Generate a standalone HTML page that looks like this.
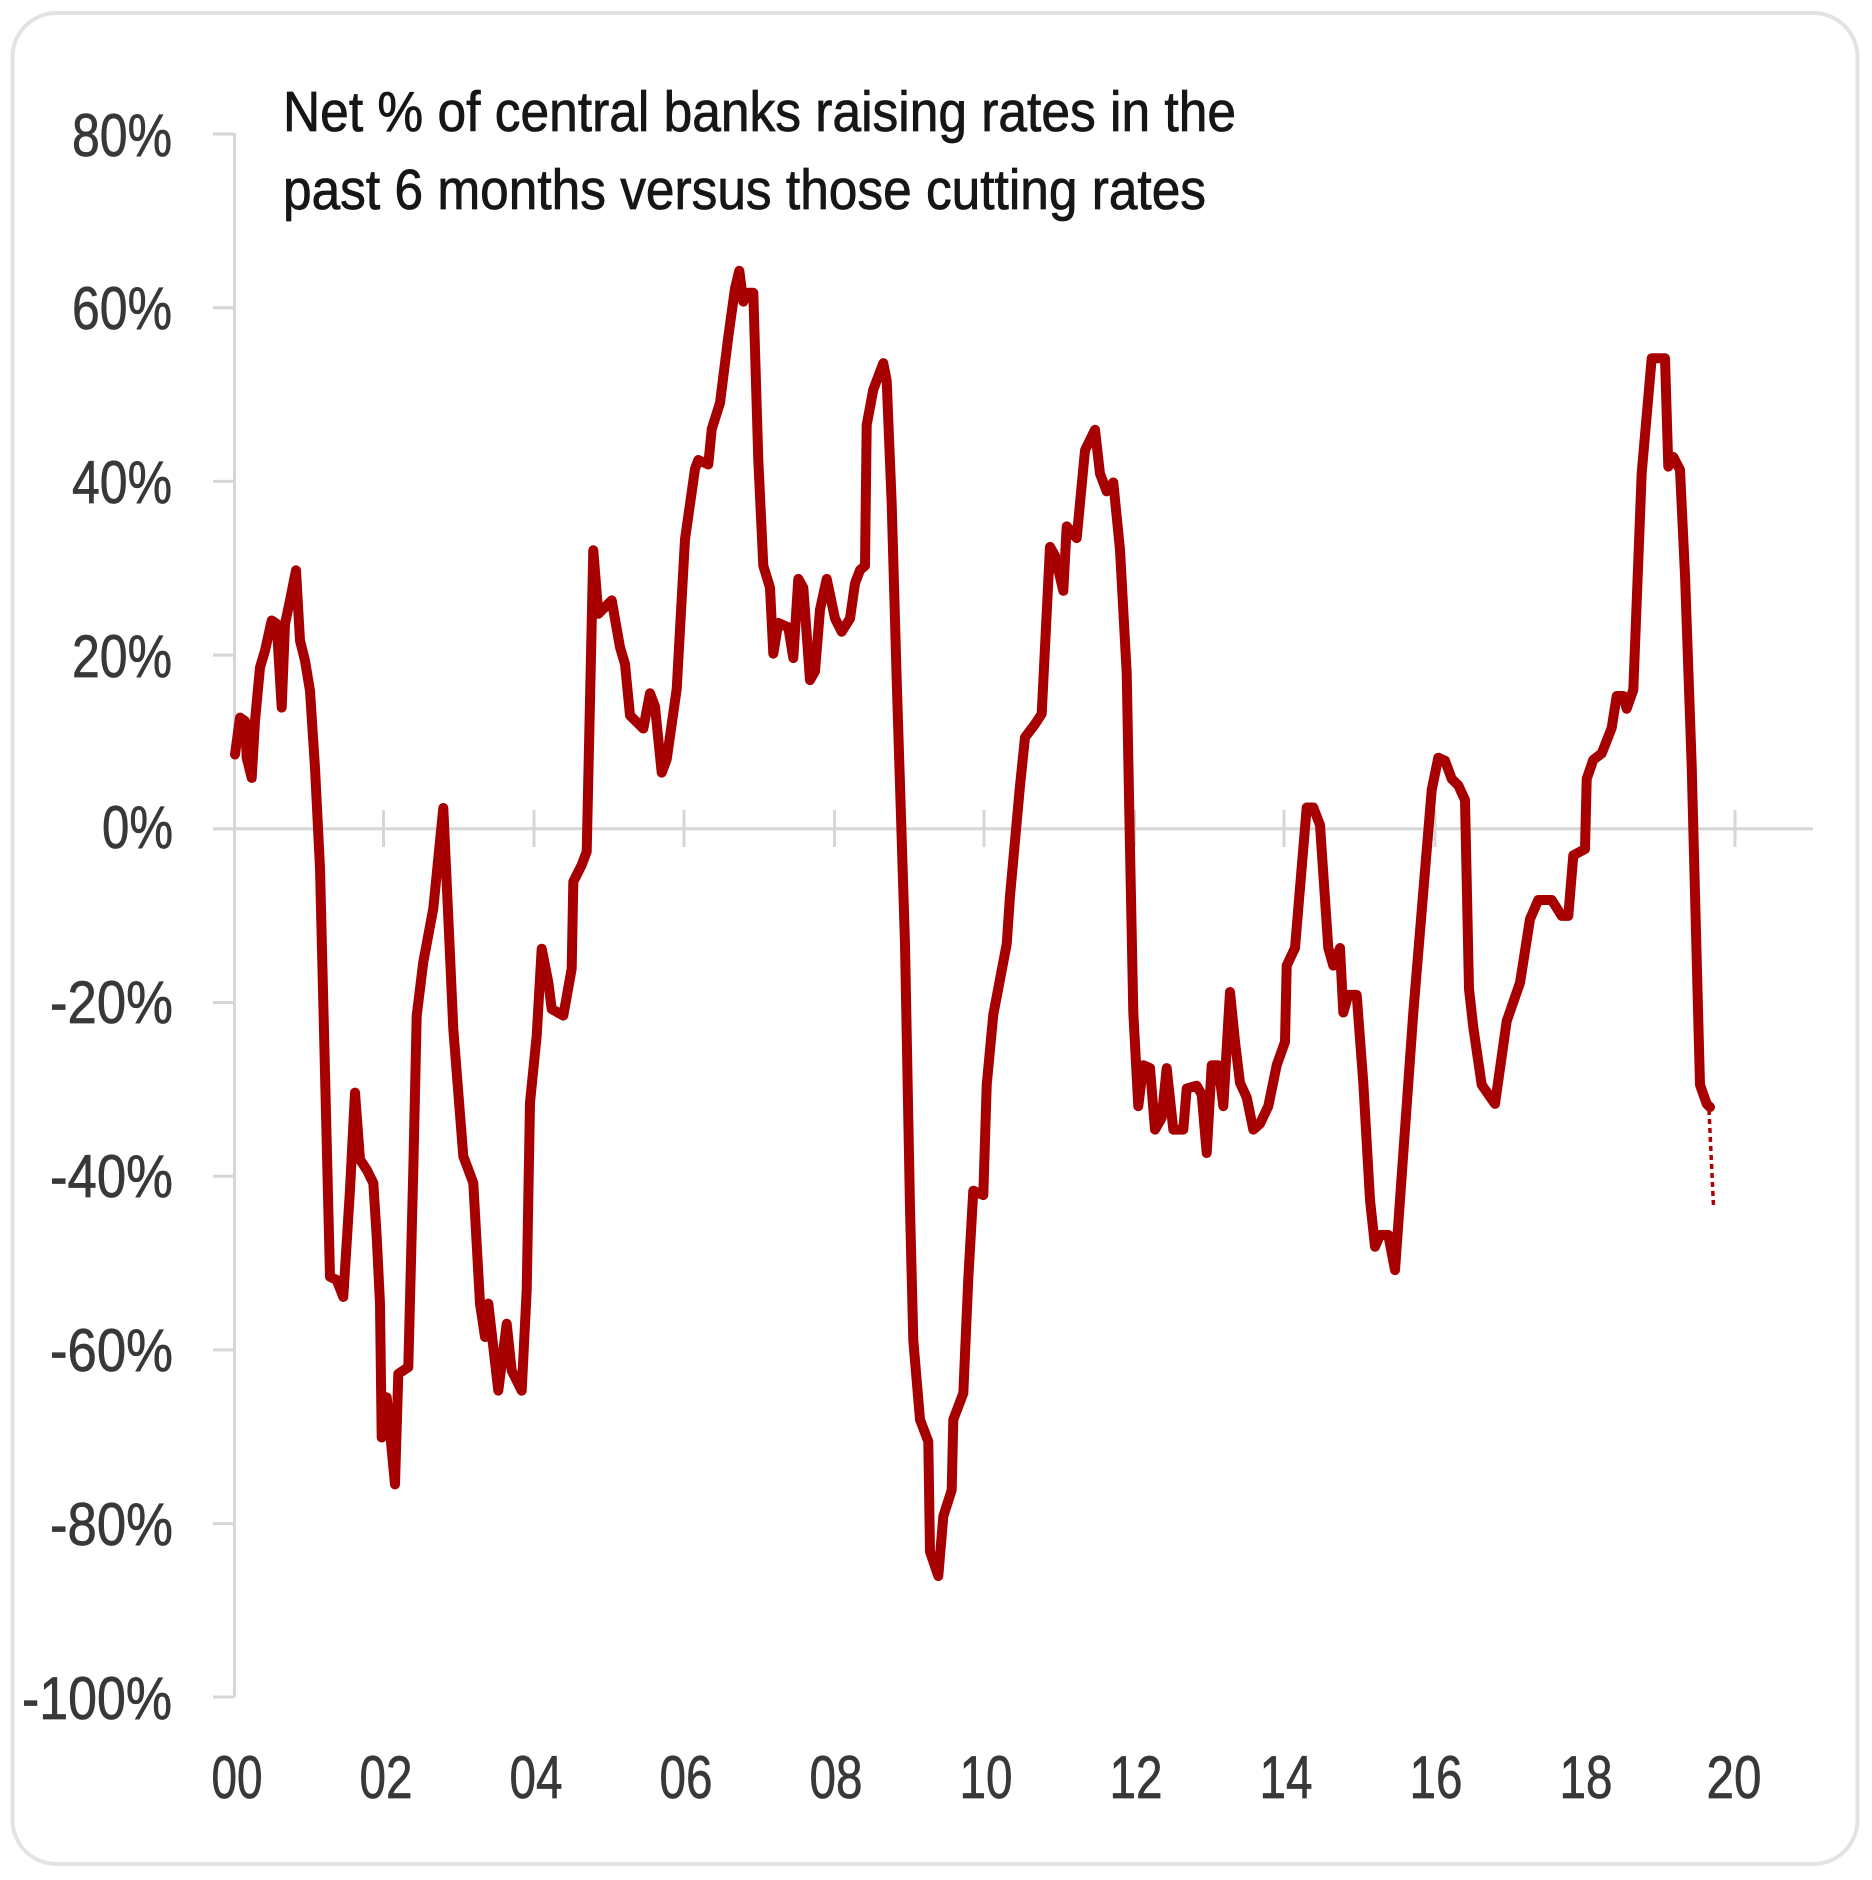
<!DOCTYPE html>
<html>
<head>
<meta charset="utf-8">
<style>
  html,body{margin:0;padding:0;background:#ffffff;}
  svg{display:block;}
  text{font-family:"Liberation Sans Narrow","Liberation Sans","Arial Narrow",sans-serif;}
</style>
</head>
<body>
<svg width="1872" height="1880" viewBox="0 0 1872 1880" xmlns="http://www.w3.org/2000/svg">
  <rect x="0" y="0" width="1872" height="1880" fill="#ffffff"/>
  <!-- card -->
  <rect x="12.5" y="13" width="1845" height="1851" rx="44" ry="44" fill="#ffffff" stroke="#e3e3e3" stroke-width="4"/>

  <!-- axes -->
  <g stroke="#d6d6d6" stroke-width="3" fill="none">
    <line x1="234.5" y1="133" x2="234.5" y2="1697"/>
    <line x1="213" y1="134" x2="234" y2="134"/>
    <line x1="213" y1="307.7" x2="234" y2="307.7"/>
    <line x1="213" y1="481.4" x2="234" y2="481.4"/>
    <line x1="213" y1="655.1" x2="234" y2="655.1"/>
    <line x1="213" y1="1002.5" x2="234" y2="1002.5"/>
    <line x1="213" y1="1176.2" x2="234" y2="1176.2"/>
    <line x1="213" y1="1349.9" x2="234" y2="1349.9"/>
    <line x1="213" y1="1523.6" x2="234" y2="1523.6"/>
    <line x1="213" y1="1697" x2="234" y2="1697"/>
    <line x1="213" y1="828.8" x2="1813" y2="828.8"/>
    <line x1="383.5" y1="810" x2="383.5" y2="847"/>
    <line x1="534" y1="810" x2="534" y2="847"/>
    <line x1="684" y1="810" x2="684" y2="847"/>
    <line x1="834.5" y1="810" x2="834.5" y2="847"/>
    <line x1="984" y1="810" x2="984" y2="847"/>
    <line x1="1134.5" y1="810" x2="1134.5" y2="847"/>
    <line x1="1284" y1="810" x2="1284" y2="847"/>
    <line x1="1435" y1="810" x2="1435" y2="847"/>
    <line x1="1585" y1="810" x2="1585" y2="847"/>
    <line x1="1735" y1="810" x2="1735" y2="847"/>
  </g>

  <!-- y labels -->
  <g fill="#383838" stroke="#383838" stroke-width="0.7" font-size="60" text-anchor="end">
    <text x="172" y="156" textLength="100" lengthAdjust="spacingAndGlyphs">80%</text>
    <text x="172" y="329" textLength="100" lengthAdjust="spacingAndGlyphs">60%</text>
    <text x="172" y="503" textLength="100" lengthAdjust="spacingAndGlyphs">40%</text>
    <text x="172" y="677" textLength="100" lengthAdjust="spacingAndGlyphs">20%</text>
    <text x="173" y="848" textLength="71" lengthAdjust="spacingAndGlyphs">0%</text>
    <text x="173" y="1023" textLength="123" lengthAdjust="spacingAndGlyphs">-20%</text>
    <text x="173" y="1197" textLength="123" lengthAdjust="spacingAndGlyphs">-40%</text>
    <text x="173" y="1371" textLength="123" lengthAdjust="spacingAndGlyphs">-60%</text>
    <text x="173" y="1545" textLength="123" lengthAdjust="spacingAndGlyphs">-80%</text>
    <text x="172" y="1719" textLength="150" lengthAdjust="spacingAndGlyphs">-100%</text>
  </g>

  <!-- x labels -->
  <g fill="#383838" stroke="#383838" stroke-width="0.7" font-size="60" text-anchor="middle">
    <text x="237" y="1798" textLength="51" lengthAdjust="spacingAndGlyphs">00</text>
    <text x="386" y="1798" textLength="53" lengthAdjust="spacingAndGlyphs">02</text>
    <text x="536" y="1798" textLength="53" lengthAdjust="spacingAndGlyphs">04</text>
    <text x="686" y="1798" textLength="53" lengthAdjust="spacingAndGlyphs">06</text>
    <text x="836" y="1798" textLength="53" lengthAdjust="spacingAndGlyphs">08</text>
    <text x="986" y="1798" textLength="53" lengthAdjust="spacingAndGlyphs">10</text>
    <text x="1136" y="1798" textLength="53" lengthAdjust="spacingAndGlyphs">12</text>
    <text x="1286" y="1798" textLength="53" lengthAdjust="spacingAndGlyphs">14</text>
    <text x="1436" y="1798" textLength="53" lengthAdjust="spacingAndGlyphs">16</text>
    <text x="1586" y="1798" textLength="53" lengthAdjust="spacingAndGlyphs">18</text>
    <text x="1734" y="1798" textLength="55" lengthAdjust="spacingAndGlyphs">20</text>
  </g>

  <!-- title -->
  <g fill="#161616" stroke="#161616" stroke-width="0.8" font-size="57">
    <text x="283" y="131" textLength="953" lengthAdjust="spacingAndGlyphs">Net % of central banks raising rates in the</text>
    <text x="283" y="209" textLength="923" lengthAdjust="spacingAndGlyphs">past 6 months versus those cutting rates</text>
  </g>

  <!-- series -->
  <polyline fill="none" stroke="#a80000" stroke-width="10" stroke-linejoin="round" stroke-linecap="round" points="
235,754.5 240,717.6 245,721 246.7,757.8 251.7,777.9 255,721 260,667.4 265,650.7 271.7,620.5 276.7,623.9 281.7,707.6 285,623.9 290,600.4 296,570.3 300,640.6 305,660.7 310,690.8 315,767.9 320,868 330,1276.8 336.7,1280 343.3,1296.9 350,1189.7 355,1092.6 360,1159.6 366.7,1169.7 373.3,1183 376.7,1236.6 380,1303.6 381.7,1437.5 386.7,1397.3 395,1484.4 398.3,1373.9 408.3,1367.2 413.3,1169.7 416.7,1015.6 423.3,962 433.3,908.5 443.3,808 450,955 453.3,1029 463.3,1156.3 473.3,1183 480,1303.6 485,1337 488.3,1303.6 498.3,1390.6 506.7,1323.7 511.7,1370.6 521.7,1390.6 526.7,1290 530,1102.7 536.7,1035.7 541.7,948.7 548.3,982.1 551.7,1009 563.3,1015.6 571.7,968.8 573.3,881.7 581.7,865 586.7,851.6 590,700.9 593.3,550.2 598.3,613.8 611.7,600.4 620,647.3 625,664.1 630,715.4 643.3,728.6 650,693.3 655,706.5 661.7,772.6 666.7,759.4 676.7,689 685,539.3 695,468.9 698.3,460 708.3,464.5 711.7,429.3 720,402.9 728.3,336.8 735,288.4 739.3,270.8 743.3,301.6 748.3,292.8 753.3,292.8 758.3,460 763.3,565.7 770,587.7 773.3,653.7 778.3,622.9 788.3,627.3 793.3,658.1 798.3,578.9 803.3,587.7 810,680.1 815,671.3 820,609.7 826.7,578.9 835,618.5 841.7,631.7 850,618.5 855,583.3 860,570.1 865,565.7 866.7,424.9 873.3,389.6 883.3,363.2 886.7,380.8 891.7,504.1 896.7,680 905,944 910,1208 913.3,1340.3 920,1419.6 928.3,1441.5 930,1551.6 938.3,1576 943.3,1516.4 951.7,1490 953.3,1419.6 963.3,1393.2 968.3,1278.7 973.3,1190.7 983.3,1195.1 986.7,1085.1 993.3,1014.6 1006.7,944.2 1010,896 1020,785.8 1025,737.4 1035,724.2 1041.7,713.8 1050,546.9 1055,555.7 1063.3,590.8 1066.7,526.4 1076.7,538.1 1085,450.3 1095,429.8 1100,473.7 1106.7,491.3 1113.3,482.5 1120,549.8 1126.7,672.8 1130,848.5 1133.3,1012.5 1138.3,1106.2 1143.3,1065.2 1150,1068.1 1155,1129.6 1161.7,1117.9 1166.7,1068.1 1173.3,1129.6 1183.3,1129.6 1186.7,1088.6 1196.7,1085.7 1201.7,1094.5 1206.7,1153 1211.7,1065.2 1218.3,1065.2 1223.3,1106.2 1230,992 1235,1041.8 1240,1082.8 1246.7,1097.4 1253.3,1129.6 1260,1123.7 1268.3,1106.2 1276.7,1065.2 1285,1041.8 1286.7,965.6 1295,948 1306.7,807.5 1313.3,807.5 1320,825 1328.3,948 1333.3,965.6 1340,948 1343.3,1012.5 1348.3,994.9 1356.7,994.9 1363.3,1082.7 1370,1199.9 1375,1246.7 1380,1235 1388.3,1235 1395,1270.1 1413.3,1012.5 1431.7,790 1438.3,757.7 1445,760.7 1451.7,778.9 1458.3,785.3 1465,800 1469,989 1473.3,1027.4 1481.7,1084.8 1495,1103.9 1506.7,1021.1 1520,982.8 1530,919.1 1538.3,900 1551.7,900 1561.7,915.9 1568.3,915.9 1573.3,855.4 1585,849 1586.7,778.9 1593.3,759.8 1601.7,753.4 1611.7,727.9 1616.7,696 1623.3,696 1626.7,708.8 1633.3,689.7 1641.7,473 1651.7,358.2 1665,358.2 1668.3,466.6 1673.3,457 1680,469.8 1685,575 1691.7,766 1698.3,1021 1700,1084.8 1706.7,1103.9 1710,1107.1"/>
  <!-- dotted extension -->
  <line x1="1709" y1="1110" x2="1713.5" y2="1206" stroke="#b00000" stroke-width="3.5" stroke-dasharray="5,4"/>
</svg>
</body>
</html>
